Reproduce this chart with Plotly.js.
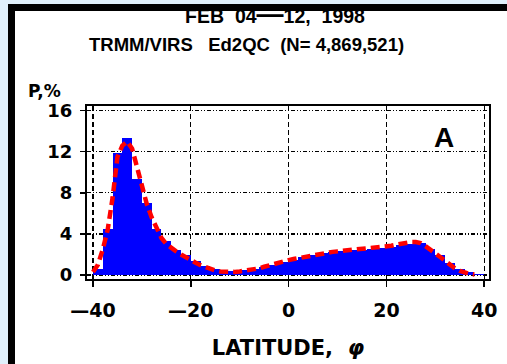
<!DOCTYPE html>
<html>
<head>
<meta charset="utf-8">
<script src="https://cdn.plot.ly/plotly-3.0.1.min.js"></script>
<style>
html,body{margin:0;padding:0;background:#e0f0fb;overflow:hidden;}
#frame{position:absolute;left:8px;top:4px;width:600px;height:500px;background:#fff;
       border-left:7px solid #000;border-top:7px solid #000;box-sizing:border-box;}
#chart{position:absolute;left:0;top:0;width:507px;height:364px;}
</style>
</head>
<body>
<div id="frame"></div>
<div id="chart"></div>
<script>
// Histogram (blue), 2-degree latitude bins
const binCenters = [-39,-37,-35,-33,-31,-29,-27,-25,-23,-21,-19,-17,-15,-13,-11,-9,-7,-5,-3,-1,
                    1,3,5,7,9,11,13,15,17,19,21,23,25,27,29,31,33,35,37,39];
const histValues = [0.6,4.5,11.9,13.3,9.3,7.0,4.5,3.3,2.4,1.9,1.4,0.9,0.55,0.35,0.35,0.45,0.6,0.8,1.0,1.3,
                    1.5,1.75,1.95,2.1,2.25,2.35,2.4,2.4,2.5,2.6,2.75,2.9,3.05,3.1,2.5,1.9,1.2,0.6,0.25,0.05];
// Smooth fit (red dashed), 1-degree steps
const fitLat = [-40,-39,-38,-37,-36,-35,-34,-33,-32,-31,-30,-29,-28,-27,-26,-25,-24,-23,-22,-21,
                -20,-19,-18,-17,-16,-15,-14,-13,-12,-11,-10,-9,-8,-7,-6,-5,-4,-3,-2,-1,
                0,1,2,3,4,5,6,7,8,9,10,11,12,13,14,15,16,17,18,19,
                20,21,22,23,24,25,26,27,28,29,30,31,32,33,34,35,36,37,38];
const fitValues = [0.3,1.0,2.5,4.4,7.5,11.5,12.6,13.0,12.3,10.5,8.3,6.9,5.6,4.5,3.6,3.0,2.6,2.3,2.0,1.7,
                   1.45,1.2,0.95,0.75,0.55,0.45,0.35,0.3,0.3,0.3,0.35,0.4,0.45,0.55,0.65,0.8,0.95,1.05,1.2,1.35,
                   1.45,1.55,1.65,1.75,1.85,1.95,2.05,2.15,2.2,2.25,2.3,2.35,2.4,2.45,2.45,2.45,2.5,2.55,2.6,2.7,
                   2.75,2.85,2.95,3.05,3.15,3.2,3.2,3.1,2.8,2.5,2.1,1.75,1.35,1.0,0.65,0.4,0.2,0.1,0.05];
const xTickVals = [-40,-20,0,20,40];
const xTickText = ["\u201440","\u201420","0","20","40"];
const yTickVals = [0,4,8,12,16];
const yTickText = ["0","4","8","12","16"];

const titleLine1 = "FEB &nbsp;04<span style='font-size:27px'>\u2014</span>12, &nbsp;1998";
const titleLine2 = "TRMM/VIRS &nbsp; Ed2QC &nbsp;(N= 4,869,521)";
const yLabel = "P,%";
const xLabel = "LATITUDE, &nbsp;<i>\u03c6</i>";
const panelLabel = "A";

// layout geometry (pixels)
const W = 507, H = 364, L = 87, R = 18, T = 106, B = 85;
const pw = W - L - R, ph = H - T - B;
const px2x = p => (p - L) / pw;
const py2y = p => (H - B - p) / ph;

const xTickFont = {family: "DejaVu Sans", size: 19, color: "#000", weight: "bold"};
const yTickFont = {family: "DejaVu Sans", size: 18, color: "#000", weight: "bold"};
const txtFont = {family: "Liberation Sans", size: 18.5, color: "#000", weight: "bold"};

const traces = [
  {type: "bar", x: binCenters, y: histValues, width: 2,
   marker: {color: "#0000ff", line: {width: 0}}, hoverinfo: "skip", showlegend: false},
  {type: "scatter", mode: "lines", x: fitLat, y: fitValues,
   line: {color: "#ff0000", width: 4.5, dash: "9px,5px"}, hoverinfo: "skip", showlegend: false}
];

const layout = {
  width: W, height: H,
  margin: {l: L, r: R, t: T, b: B},
  paper_bgcolor: "rgba(0,0,0,0)",
  plot_bgcolor: "rgba(0,0,0,0)",
  bargap: 0,
  showlegend: false,
  title: {text: titleLine1, font: {family: "Liberation Sans", size: 19.5, color: "#000", weight: "bold"},
          x: 275 / W, xanchor: "center",
          xref: "container", y: 1 - 16 / H, yanchor: "middle", yref: "container"},
  xaxis: {range: [-41.23, 40.98], tickvals: xTickVals, ticktext: xTickText,
          tickfont: xTickFont, ticks: "outside", ticklen: 6, tickwidth: 1.5, tickcolor: "#000",
          showgrid: true, gridcolor: "#000", gridwidth: 1.3, griddash: "5px,3px",
          zeroline: false, showline: true, linecolor: "#000", linewidth: 2, mirror: true,
          ticklabelstandoff: 7,
          title: {text: xLabel, font: {family: "DejaVu Sans", size: 21, color: "#000", weight: "bold"}, standoff: 21}},
  yaxis: {range: [-0.39, 16.45], tickvals: yTickVals, ticktext: yTickText,
          tickfont: yTickFont, ticks: "outside", ticklen: 5, tickwidth: 1.5, tickcolor: "#000",
          showgrid: true, gridcolor: "#000", gridwidth: 1.3, griddash: "4px,2px,1px,2px,1px,2px",
          zeroline: false, showline: true, linecolor: "#000", linewidth: 2, mirror: true,
          ticklabelstandoff: 4},
  annotations: [
    {text: titleLine2, xref: "paper", yref: "paper", x: px2x(246), y: py2y(44),
     xanchor: "center", yanchor: "middle", showarrow: false, font: txtFont},
    {text: yLabel, xref: "paper", yref: "paper", x: px2x(26), y: py2y(91),
     xanchor: "left", yanchor: "middle", showarrow: false,
     font: {family: "DejaVu Sans", size: 17, color: "#000", weight: "bold"}},
    {text: panelLabel, xref: "paper", yref: "paper", x: px2x(444), y: py2y(137),
     xanchor: "center", yanchor: "middle", showarrow: false,
     font: {family: "Liberation Sans", size: 28, color: "#000", weight: "bold"}}
  ]
};

Plotly.newPlot("chart", traces, layout, {displayModeBar: false, staticPlot: true});
</script>
</body>
</html>
